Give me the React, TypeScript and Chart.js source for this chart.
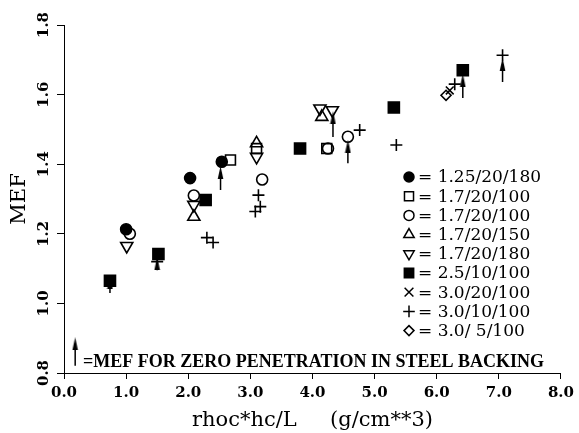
import React, { useEffect, useRef } from 'react';
import { Chart, registerables, PointElement } from 'chart.js';

Chart.register(...registerables);

// ---- axis ticks ----
const xTickValues = [0, 1, 2, 3, 4, 5, 6, 7, 8];
const yTickValues = [0.8, 1.0, 1.2, 1.4, 1.6, 1.8];

// ---- series labels ----
const seriesLabels = [
  '= 1.25/20/180',
  '= 1.7/20/100',
  '= 1.7/20/100',
  '= 1.7/20/150',
  '= 1.7/20/180',
  '= 2.5/10/100',
  '= 3.0/20/100',
  '= 3.0/10/100',
  '= 3.0/ 5/100',
];

// ---- series values ----
const filledCircleX = [1.0, 2.03, 2.54];
const filledCircleY = [1.213, 1.36, 1.407];

const openSquareX = [2.68, 3.1, 4.23];
const openSquareY = [1.412, 1.445, 1.445];

const openCircleX = [1.06, 2.09, 3.19, 4.25, 4.57];
const openCircleY = [1.2, 1.31, 1.356, 1.445, 1.479];

const triUpX = [2.09, 3.1, 4.15];
const triUpY = [1.249, 1.46, 1.536];

const triDownX = [1.01, 2.09, 3.1, 4.12, 4.32];
const triDownY = [1.165, 1.283, 1.421, 1.56, 1.555];

const filledSquareX = [0.74, 1.52, 2.28, 3.8, 5.31, 6.42];
const filledSquareY = [1.065, 1.142, 1.297, 1.445, 1.563, 1.67];

const crossRotX = [6.21];
const crossRotY = [1.612];

const plusX = [1.5, 2.3, 2.4, 3.13, 3.08, 3.16, 4.76, 5.35, 6.29, 7.06];
const plusY = [1.12, 1.189, 1.175, 1.311, 1.264, 1.278, 1.498, 1.455, 1.63, 1.713];

const diamondX = [6.15];
const diamondY = [1.598];

// zero-penetration arrows: x, arrow-head centre, end of shaft
const arrowX = [0.18, 0.74, 1.5, 2.52, 4.33, 4.57, 6.42, 7.06];
const arrowHeadY = [0.884, 1.06, 1.115, 1.376, 1.534, 1.452, 1.641, 1.687];
const arrowTailY = [0.821, 1.03, 1.095, 1.326, 1.478, 1.403, 1.59, 1.636];

const noteText = '=MEF FOR ZERO PENETRATION IN STEEL BACKING';
const xTitle = 'rhoc*hc/L     (g/cm**3)';
const yTitle = 'MEF';

const pts = (xs: number[], ys: number[]) => xs.map((x, i) => ({ x, y: ys[i] }));

const SERIF = '"DejaVu Serif", serif';

export default function App() {
  const ref = useRef<HTMLCanvasElement>(null);

  useEffect(() => {
    if (!ref.current) return;

    // arrow head image
    const head = document.createElement('canvas');
    head.width = 7;
    head.height = 13;
    const hc = head.getContext('2d')!;
    hc.fillStyle = '#000';
    hc.beginPath();
    hc.moveTo(3.5, 0);
    hc.lineTo(6.3, 13);
    hc.lineTo(0.7, 13);
    hc.closePath();
    hc.fill();

    const shaftData: { x: number; y: number | null }[] = [];
    arrowX.forEach((x, i) => {
      shaftData.push({ x, y: arrowHeadY[i] });
      shaftData.push({ x, y: arrowTailY[i] });
      shaftData.push({ x, y: null });
    });

    const mk = (
      label: string,
      data: { x: number; y: number }[],
      style: string,
      radius: number,
      fill: boolean,
      rotation = 0
    ) => ({
      label,
      data,
      pointStyle: style,
      pointRadius: radius,
      pointRotation: rotation,
      pointBorderColor: '#000',
      pointBorderWidth: 1.6,
      pointBackgroundColor: fill ? '#000' : 'rgba(0,0,0,0)',
      backgroundColor: fill ? '#000' : 'rgba(0,0,0,0)',
      borderColor: '#000',
      showLine: false,
    });

    const legendRadius = [5, 6.4, 5, 6, 6, 6.6, 6.2, 5.8, 5];

    const series = [
      mk(seriesLabels[0], pts(filledCircleX, filledCircleY), 'circle', 5.5, true),
      mk(seriesLabels[1], pts(openSquareX, openSquareY), 'rect', 7, false),
      mk(seriesLabels[2], pts(openCircleX, openCircleY), 'circle', 5.5, false),
      mk(seriesLabels[3], pts(triUpX, triUpY), 'triangle', 7, false),
      mk(seriesLabels[4], pts(triDownX, triDownY), 'triangle', 7, false, 180),
      mk(seriesLabels[5], pts(filledSquareX, filledSquareY), 'rect', 7.8, true),
      mk(seriesLabels[6], pts(crossRotX, crossRotY), 'crossRot', 5.5, false),
      mk(seriesLabels[7], pts(plusX, plusY), 'cross', 6, false),
      mk(seriesLabels[8], pts(diamondX, diamondY), 'rectRot', 5, false),
    ];

    const overlay = {
      id: 'overlay',
      afterDraw(chart: any) {
        const ctx = chart.ctx;
        const area = chart.chartArea;
        ctx.save();
        // legend inside plot
        const lx = 409;
        const ly = 177;
        const step = 19.2;
        series.forEach((ds, i) => {
          const y = ly + i * step;
          const p = new (PointElement as any)({
            x: lx,
            y,
            options: {
              pointStyle: ds.pointStyle,
              rotation: ds.pointRotation,
              radius: legendRadius[i],
              borderWidth: 1.5,
              borderColor: '#000',
              backgroundColor: ds.pointBackgroundColor,
            },
          });
          p.draw(ctx, { left: 0, top: 0, right: 9999, bottom: 9999 });
          ctx.fillStyle = '#000';
          ctx.font = '17px ' + SERIF;
          ctx.textAlign = 'left';
          ctx.textBaseline = 'middle';
          ctx.fillText(ds.label, lx + 9, y + 1);
        });
        // note
        ctx.font = 'bold 18px "Liberation Serif", serif';
        ctx.textAlign = 'left';
        ctx.textBaseline = 'alphabetic';
        ctx.fillText(noteText, area.left + 19, area.bottom - 6.5);
        ctx.restore();
      },
    };

    const chart = new Chart(ref.current, {
      type: 'scatter',
      data: {
        datasets: [
          {
            label: '',
            data: arrowX.map((x, i) => ({ x, y: arrowHeadY[i] })),
            pointStyle: head as any,
            pointRadius: 6,
            showLine: false,
          } as any,
          {
            label: '',
            data: shaftData,
            showLine: true,
            spanGaps: false,
            borderColor: '#000',
            borderWidth: 1.5,
            pointRadius: 0,
          } as any,
          ...series,
        ],
      },
      options: {
        animation: false,
        responsive: true,
        maintainAspectRatio: false,
        layout: { padding: { top: 25, right: 16, left: 0, bottom: 0 } },
        plugins: {
          legend: { display: false },
          tooltip: { enabled: false },
        },
        scales: {
          x: {
            type: 'linear',
            min: 0,
            max: 8,
            afterFit: (s: any) => {
              s.height = 60;
            },
            afterBuildTicks: (s: any) => {
              s.ticks = xTickValues.map((v) => ({ value: v }));
            },
            ticks: {
              color: '#000',
              padding: 5,
              maxRotation: 0,
              font: { family: SERIF, size: 15, weight: 'bold' },
              callback: (v: any) => Number(v).toFixed(1),
            },
            grid: { drawOnChartArea: false, drawTicks: true, tickLength: 6, color: '#000', lineWidth: 1 },
            border: { display: true, color: '#000', width: 1 },
            title: {
              display: true,
              text: xTitle,
              color: '#000',
              font: { family: SERIF, size: 21, weight: 'normal' },
              padding: { top: 8, bottom: 0 },
            },
          },
          y: {
            type: 'linear',
            min: 0.8,
            max: 1.8,
            afterFit: (s: any) => {
              s.width = 64;
            },
            afterBuildTicks: (s: any) => {
              s.ticks = yTickValues.map((v) => ({ value: v }));
            },
            ticks: {
              color: '#000',
              padding: 0,
              minRotation: 90,
              maxRotation: 90,
              crossAlign: 'center',
              font: { family: SERIF, size: 15, weight: 'bold' },
              callback: (v: any) => Number(v).toFixed(1),
            },
            grid: { drawOnChartArea: false, drawTicks: true, tickLength: 7, color: '#000', lineWidth: 1 },
            border: { display: true, color: '#000', width: 1 },
            title: {
              display: true,
              text: yTitle,
              color: '#000',
              font: { family: SERIF, size: 21, weight: 'normal' },
              padding: { top: 7, bottom: 0 },
            },
          },
        },
      } as any,
      plugins: [overlay],
    });

    return () => chart.destroy();
  }, []);

  return (
    <div style={{ position: 'fixed', left: 0, top: 0, width: 579, height: 433, background: '#fff' }}>
      <canvas ref={ref} />
    </div>
  );
}
